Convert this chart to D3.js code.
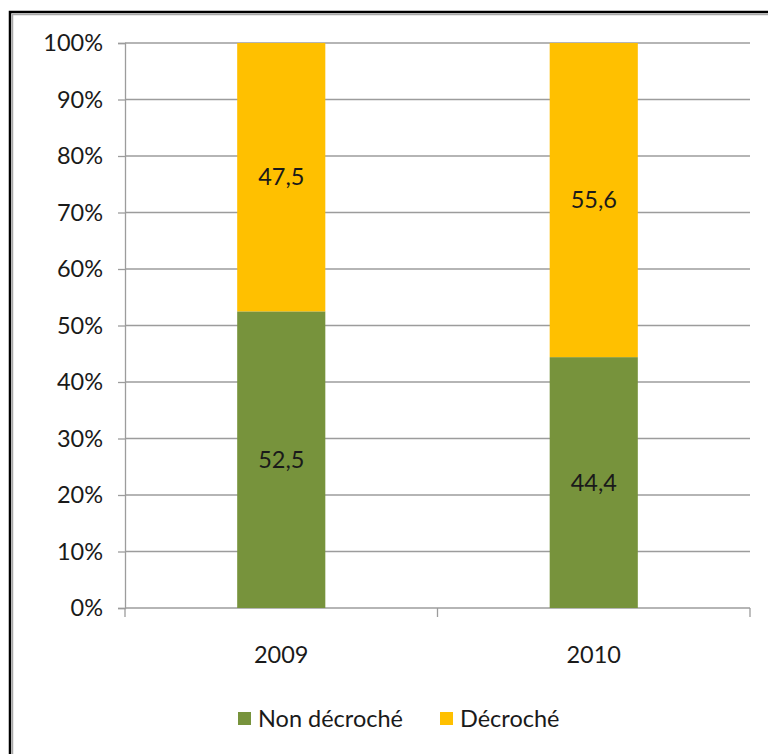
<!DOCTYPE html>
<html><head><meta charset="utf-8">
<script src="https://cdn.jsdelivr.net/npm/d3@7/dist/d3.min.js"></script>
<style>body{margin:0;background:#fff;}svg{display:block;}</style>
</head><body>
<svg id="c" width="768" height="754"></svg>
<script>
const categories = ["2009", "2010"];
const seriesNames = ["Non décroché", "Décroché"];
const nonDecroche = [52.5, 44.4];
const decroche = [47.5, 55.6];
const yTicks = [0, 10, 20, 30, 40, 50, 60, 70, 80, 90, 100];
const colors = ["#77933C", "#FFC000"];

(function () {
const svg = d3.select("#c");
const font = "Lato, 'Open Sans', sans-serif";
const fs = 23.5;
const txt = "#1a1a1a";

// frame
svg.append("rect").attr("x", 10).attr("y", 12).attr("width", 800).attr("height", 800)
  .attr("fill", "#fff").attr("stroke", "#000").attr("stroke-width", 2.5);
svg.append("rect").attr("x", 12.5).attr("y", 14.5).attr("width", 800).attr("height", 800)
  .attr("fill", "none").attr("stroke", "#a8a8a8").attr("stroke-width", 1.5);

const pLeft = 125, pRight = 750, pTop = 43, pBottom = 608;
const x = d3.scaleBand().domain(categories).range([pLeft, pRight]).paddingInner(0.718).paddingOuter(0.359);
const y = d3.scaleLinear().domain([0, 100]).range([pBottom, pTop]);

// gridlines
svg.append("g").selectAll("line").data(yTicks.filter(d => d > 0)).join("line")
  .attr("x1", pLeft).attr("x2", pRight).attr("y1", d => y(d)).attr("y2", d => y(d))
  .attr("stroke", "#9c9c9c").attr("stroke-width", 1.3);

// y axis
const yAxis = d3.axisLeft(y).tickValues(yTicks).tickFormat(d => d + "%").tickSize(7).tickPadding(15);
const ya = svg.append("g").attr("transform", `translate(${pLeft},0)`).call(yAxis);
ya.select(".domain").attr("stroke", "#9c9c9c").attr("stroke-width", 1.3);
ya.selectAll(".tick line").attr("stroke", "#9c9c9c").attr("stroke-width", 1.3);
ya.selectAll(".tick text").attr("font-family", font).attr("font-size", fs).attr("fill", txt);

// x axis
const xb = svg.append("g").attr("transform", `translate(0,${pBottom})`);
xb.append("line").attr("x1", pLeft).attr("x2", pRight).attr("stroke", "#9c9c9c").attr("stroke-width", 1.3);
const boundaries = [pLeft, (x(categories[0]) + x.bandwidth() + x(categories[1])) / 2, pRight];
xb.selectAll("line.t").data(boundaries).join("line").attr("class", "t")
  .attr("x1", d => d).attr("x2", d => d).attr("y1", 0).attr("y2", 9)
  .attr("stroke", "#9c9c9c").attr("stroke-width", 1.3);
xb.selectAll("text").data(categories).join("text")
  .attr("x", d => x(d) + x.bandwidth() / 2).attr("y", 55)
  .attr("text-anchor", "middle").attr("font-family", font).attr("font-size", fs).attr("fill", txt)
  .text(d => d);

// stacked bars
const rows = categories.map((c, i) => ({ cat: c, s0: nonDecroche[i], s1: decroche[i] }));
const stack = d3.stack().keys(["s0", "s1"])(rows);
stack.forEach((layer, li) => {
  const g = svg.append("g");
  g.selectAll("rect").data(layer).join("rect")
    .attr("x", d => x(d.data.cat)).attr("width", x.bandwidth())
    .attr("y", d => y(d[1])).attr("height", d => y(d[0]) - y(d[1]))
    .attr("fill", colors[li]);
  g.selectAll("text").data(layer).join("text")
    .attr("x", d => x(d.data.cat) + x.bandwidth() / 2)
    .attr("y", d => (y(d[0]) + y(d[1])) / 2 + 8)
    .attr("text-anchor", "middle").attr("font-family", font).attr("font-size", fs).attr("fill", txt)
    .text(d => String(li === 0 ? d.data.s0 : d.data.s1).replace(".", ","));
});

// legend
const legendX = [238, 440];
const lg = svg.append("g");
seriesNames.forEach((n, i) => {
  lg.append("rect").attr("x", legendX[i]).attr("y", 712).attr("width", 13).attr("height", 13).attr("fill", colors[i]);
  lg.append("text").attr("x", legendX[i] + 20).attr("y", 727)
    .attr("font-family", font).attr("font-size", fs).attr("fill", txt).text(n);
});
})();
</script>
</body></html>
